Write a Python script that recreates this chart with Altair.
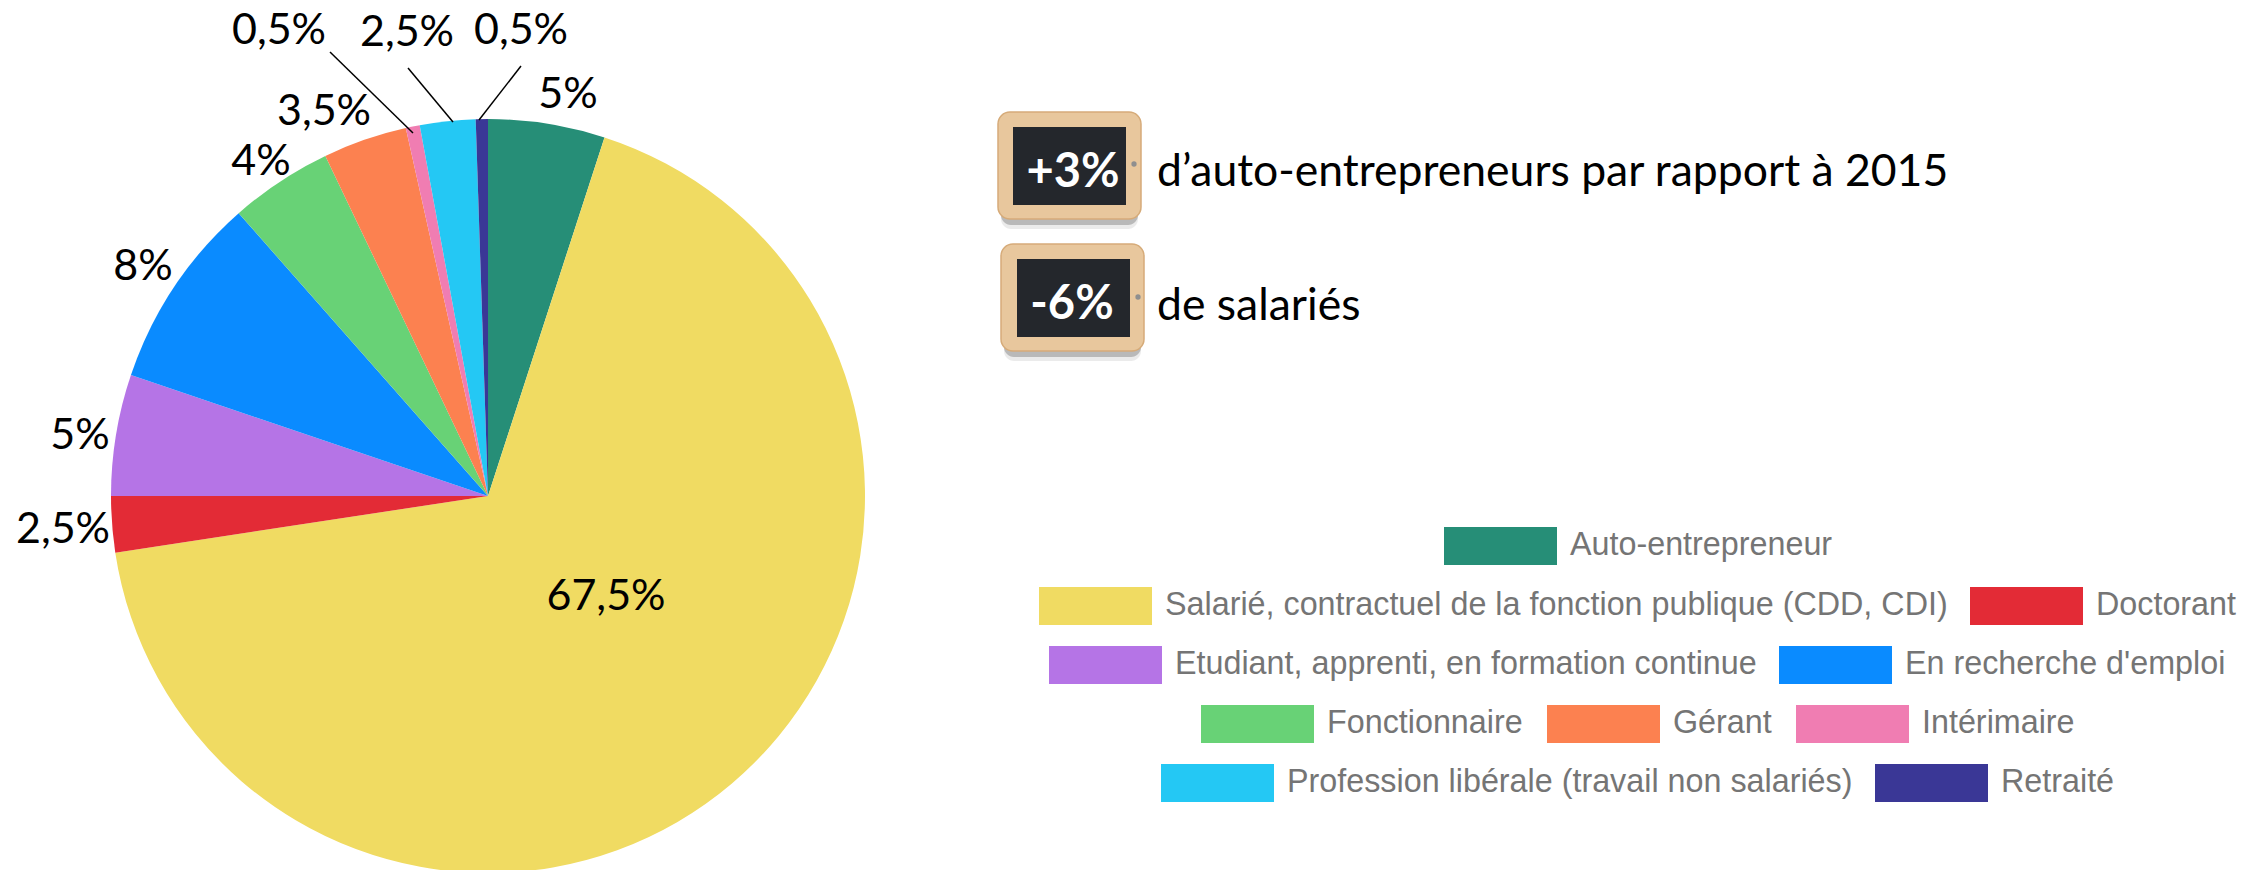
import altair as alt
import pandas as pd

# Chart values
categories = ["Auto-entrepreneur", "Salarié, contractuel de la fonction publique (CDD, CDI)", "Doctorant",
              "Etudiant, apprenti, en formation continue", "En recherche d'emploi", "Fonctionnaire", "Gérant",
              "Intérimaire", "Profession libérale (travail non salariés)", "Retraité"]
values = [5.0, 67.6, 2.4, 5.2, 8.3, 4.4, 3.6, 0.6, 2.38, 0.52]
colors = ["#268e77", "#f0db62", "#e32b36", "#b574e6", "#0a8bff", "#68d276", "#fc8150", "#f07db2", "#24c8f4", "#3a3796"]
pie_labels = ["5%", "67,5%", "2,5%", "5%", "8%", "4%", "3,5%", "0,5%", "2,5%", "0,5%"]
board_labels = ["+3%", "-6%"]
board_texts = ["d’auto-entrepreneurs par rapport à 2015", "de salariés"]

# Layout, in page pixels
OFF = 8
CX, CY, R = 488, 496, 377
pie_label_x = [568, 606, 63, 80, 143, 261, 324, 279, 407, 521]
pie_label_y = [95, 597, 530, 436, 267, 162, 112, 31, 33, 31]
leader_x = [330, 408, 521]
leader_x2 = [413, 453, 479]
leader_y = [52, 68, 66]
leader_y2 = [133, 122, 120]
legend_x = [1444, 1039, 1970, 1049, 1779, 1201, 1547, 1796, 1161, 1875]
legend_y = [527, 587, 587, 646, 646, 705, 705, 705, 764, 764]
SW, SH = 113, 38
outer_x = [998, 1001]; outer_y = [112, 244]
inner_x = [1013, 1017]; inner_y = [127, 259]
dot_x = [1134, 1138]; dot_y = [164, 297]
board_label_x = [1073, 1072]; board_label_y = [173, 305]
board_text_x = [1157, 1157]; board_text_y = [186, 320]


def P(name):
    return alt.X(f"{name}:Q", scale=None, axis=None)


def Q(name):
    return alt.Y(f"{name}:Q", scale=None, axis=None)


def shift(seq, d=0):
    return [v - OFF + d for v in seq]


pie = alt.Chart(pd.DataFrame({"name": categories, "v": values, "i": range(len(values))})).mark_arc(
    radius=R, stroke=None
).encode(
    theta=alt.Theta("v:Q", stack=True, scale=alt.Scale(domain=[0, sum(values)], range=[0, 6.283185307])),
    order=alt.Order("i:Q"),
    color=alt.Color("name:N", scale=alt.Scale(domain=categories, range=colors), legend=None),
    x=alt.value(CX - OFF),
    y=alt.value(CY - OFF),
)

labels = alt.Chart(pd.DataFrame({"t": pie_labels, "x": shift(pie_label_x), "y": shift(pie_label_y)})).mark_text(
    font="Lato", fontSize=43, color="#000000", align="center", baseline="middle"
).encode(x=P("x"), y=Q("y"), text="t:N")

leaders = alt.Chart(pd.DataFrame({"x": shift(leader_x), "x2": shift(leader_x2), "y": shift(leader_y), "y2": shift(leader_y2)})).mark_rule(
    color="#000000", strokeWidth=1.5
).encode(x=P("x"), x2="x2:Q", y=Q("y"), y2="y2:Q")

leg = pd.DataFrame({
    "name": categories,
    "x": shift(legend_x), "x2": shift(legend_x, SW),
    "y": shift(legend_y), "y2": shift(legend_y, SH),
    "tx": shift(legend_x, SW + 13), "ty": shift(legend_y, SH / 2 - 1),
})
swatches = alt.Chart(leg).mark_rect().encode(
    x=P("x"), x2="x2:Q", y=Q("y"), y2="y2:Q",
    color=alt.Color("name:N", scale=alt.Scale(domain=categories, range=colors), legend=None),
)
legend_text = alt.Chart(leg).mark_text(
    font="Liberation Sans", fontSize=32.3, color="#757575", align="left", baseline="middle"
).encode(x=P("tx"), y=Q("ty"), text="name:N")

b = pd.DataFrame({
    "x": shift(outer_x), "x2": shift(outer_x, 143),
    "y": shift(outer_y), "y2": shift(outer_y, 107),
    "sx": shift(outer_x, 3), "sx2": shift(outer_x, 140),
    "sy": shift(outer_y, 90), "sy2": shift(outer_y, 117),
    "s2y2": shift(outer_y, 113),
    "ix": shift(inner_x), "ix2": shift(inner_x, 113),
    "iy": shift(inner_y), "iy2": shift(inner_y, 78),
    "dx": shift(dot_x), "dy": shift(dot_y),
    "lx": shift(board_label_x), "ly": shift(board_label_y), "label": board_labels,
    "tx": shift(board_text_x), "ty": shift(board_text_y), "text": board_texts,
})
shadow_outer = alt.Chart(b).mark_rect(color="#8f8f8f", opacity=0.18, cornerRadius=10).encode(
    x=P("sx"), x2="sx2:Q", y=Q("sy"), y2="sy2:Q")
shadow_inner = alt.Chart(b).mark_rect(color="#6f6f6f", opacity=0.4, cornerRadius=10).encode(
    x=P("sx"), x2="sx2:Q", y=Q("sy"), y2="s2y2:Q")
frame = alt.Chart(b).mark_rect(color="#e8c79d", cornerRadius=12, stroke="#d6ab79", strokeWidth=1.5).encode(
    x=P("x"), x2="x2:Q", y=Q("y"), y2="y2:Q")
slate = alt.Chart(b).mark_rect(color="#24272c").encode(
    x=P("ix"), x2="ix2:Q", y=Q("iy"), y2="iy2:Q")
dots = alt.Chart(b).mark_point(filled=True, color="#8f8f8f", size=28, opacity=1).encode(x=P("dx"), y=Q("dy"))
board_label = alt.Chart(b).mark_text(
    font="Lato", fontSize=47, fontWeight="bold", color="#ffffff", align="center", baseline="middle"
).encode(x=P("lx"), y=Q("ly"), text="label:N")
board_text = alt.Chart(b).mark_text(
    font="Lato", fontSize=44.5, color="#000000", align="left", baseline="alphabetic"
).encode(x=P("tx"), y=Q("ty"), text="text:N")

chart = alt.layer(
    pie, leaders, labels, swatches, legend_text, shadow_outer, shadow_inner, frame, slate, dots, board_label, board_text
).resolve_scale(color="independent").properties(
    width=2251, height=862, padding=0, background="#ffffff",
    autosize=alt.AutoSizeParams(type="none"),
).configure_view(stroke=None)

chart.save("out.html", embed_options={"renderer": "svg", "actions": False})
